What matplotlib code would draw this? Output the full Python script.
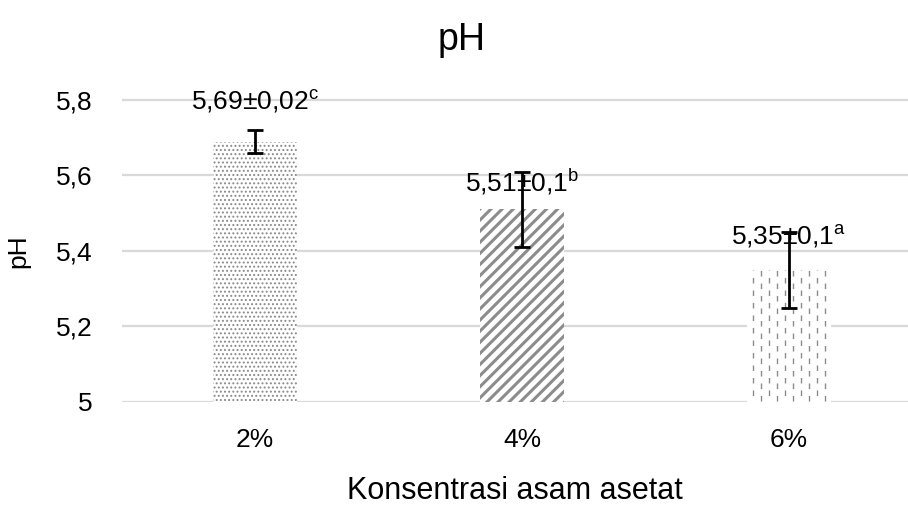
import numpy as np
import matplotlib
matplotlib.use("Agg")
from matplotlib import pyplot as plt

plt.rcParams['font.family'] = ['Liberation Sans', 'DejaVu Sans']
plt.rcParams['mathtext.fontset'] = 'custom'
plt.rcParams['mathtext.rm'] = 'Liberation Sans'
plt.rcParams['mathtext.it'] = 'Liberation Sans'

# data
categories = ['2%', '4%', '6%']
ph_values = [5.69, 5.51, 5.35]
ph_errors = [0.03, 0.1, 0.1]
letters = ['c', 'b', 'a']
label_texts = ['5,69±0,02', '5,51±0,1', '5,35±0,1']
y_ticks = [5.0, 5.2, 5.4, 5.6, 5.8]
y_tick_labels = ['5', '5,2', '5,4', '5,6', '5,8']

fig = plt.figure(figsize=(9.08, 5.07), dpi=100)
ax = fig.add_axes([121.5 / 908, 1 - 402 / 507, (908 - 121.5) / 908, (402 - 81.1) / 507])

x = np.arange(len(categories))
width = 0.315
hatches = ['....', '///', '']
hatch_lw = [0.9, 2.2, 1.0]
hatch_col = ['#8a8a8a', '#8c8c8c', '#8c8c8c']
bars = []
for i in range(len(categories)):
	with plt.rc_context({'hatch.linewidth': hatch_lw[i]}):
		b = ax.bar(x[i], ph_values[i], width, bottom=0, color='white',
				   edgecolor=hatch_col[i], linewidth=0,
				   hatch=hatches[i], zorder=2)
	bars.append(b[0])

# vertical dashed fill for the third bar
p = bars[2]
x0, w = p.get_x(), p.get_width()
cols = np.linspace(x0 + w * 0.07, x0 + w * 0.93, 10)
for k, cx in enumerate(cols):
	ax.plot([cx, cx], [0, p.get_height()], color='#8c8c8c', lw=1.0,
			linestyle=(0 if k % 2 == 0 else 4, (4, 5)), zorder=2)

ax.errorbar(x, ph_values, yerr=ph_errors, fmt='none', ecolor='black',
			elinewidth=2, capsize=6, capthick=2, zorder=4)

offsets = [40, 28, 33]
for i in range(len(categories)):
	ax.annotate(label_texts[i] + r'$^{\mathrm{' + letters[i] + '}}$',
				(x[i], ph_values[i]), xytext=(0, offsets[i]), textcoords='offset pixels',
				ha='center', va='center', fontsize=19, annotation_clip=False, zorder=5)

ax.set_ylim(5, 5.85)
ax.set_xlim(-0.5, 2.446)
ax.set_yticks(y_ticks)
ax.set_yticklabels(y_tick_labels)
ax.set_xticks(x)
ax.set_xticklabels(categories)
ax.tick_params(axis='both', length=0, labelsize=19)
ax.tick_params(axis='x', pad=19)
ax.tick_params(axis='y', pad=21)
for s in ax.spines.values():
	s.set_visible(False)
ax.yaxis.grid(True, color='#d9d9d9', lw=1.6, zorder=0)
ax.set_axisbelow(True)

fig.text(18 / 908, 1 - 251 / 507, 'pH', rotation=90, ha='center', va='center', fontsize=19)
fig.text(462 / 908, 1 - 40 / 507, 'pH', ha='center', va='center', fontsize=27)
fig.text(515 / 908, 1 - 491 / 507, 'Konsentrasi asam asetat', ha='center', va='center', fontsize=22)

fig.savefig('out.png', dpi=100)
